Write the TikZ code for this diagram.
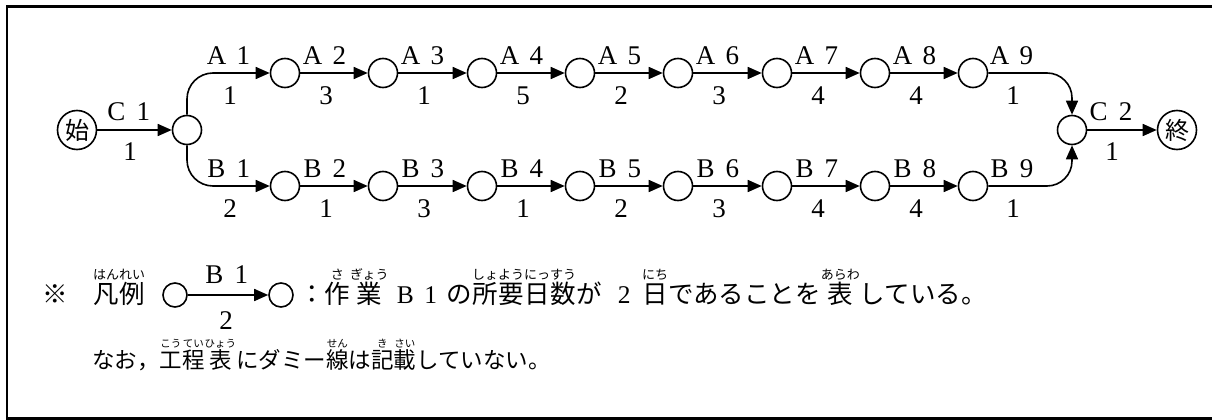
\documentclass[tikz,border=0pt]{standalone}
\usepackage{fontspec}
\setmainfont{Liberation Serif}
\newfontfamily\jp{Noto Sans CJK JP}
\usetikzlibrary{arrows.meta}
\def\rubysz{13}
\newcommand\rubyfont{\jp\fontsize{\rubysz}{\rubysz}\selectfont}
\newcommand\rb[2]{\leavevmode\setbox0\hbox{#1}\setbox2\hbox{\rubyfont #2}%
 \ifdim\wd2>\wd0 \dimen0=\wd2 \else \dimen0=\wd0 \fi
 \hbox to\dimen0{\hss\copy0\hss}\kern-\dimen0
 \hbox to\dimen0{\hss\raise 0.93em\box2\hss}}
\newcommand\fw[1]{\makebox[1em]{#1}}
\begin{document}
\begin{tikzpicture}[x=1pt,y=-1pt,
 ev/.style={circle,draw,line width=1.6pt,minimum size=29pt,inner sep=0pt},
 term/.style={circle,draw,line width=1.6pt,minimum size=39pt,inner sep=0pt,font=\jp\fontsize{24}{24}\selectfont},
 arr/.style={line width=1.6pt,-{Triangle[length=14pt,width=12pt]}},
 lab/.style={inner sep=0pt,anchor=base,font=\fontsize{27}{27}\selectfont},
 jtexta/.style={inner sep=0pt,font=\jp\fontsize{25.5}{25.5}\selectfont},
 jtextb/.style={inner sep=0pt,font=\jp\fontsize{22.5}{22.5}\selectfont},
]
\useasboundingbox (0,0) rectangle (1212,420);
\draw[line width=2.6pt] (1212,6.5) -- (7,6.5) -- (7,418.5) -- (1212,418.5);
% nodes
\node[term] (s) at (77,130) {始};
\node[ev] (f) at (187,130) {};
\foreach \i/\x in {1/285,2/383,3/482,4/580,5/678,6/777,7/875,8/973}{
  \node[ev] (a\i) at (\x,73) {};
  \node[ev] (b\i) at (\x,186) {};
}
\node[ev] (j) at (1072,130) {};
\node[term] (e) at (1177,130) {終};
% connectors
\draw[arr] (s) -- (f);
\draw[arr,rounded corners=26pt] (f.north) |- (a1.west);
\draw[arr,rounded corners=26pt] (f.south) |- (b1.west);
\foreach \p/\q in {1/2,2/3,3/4,4/5,5/6,6/7,7/8}{
  \draw[arr] (a\p) -- (a\q);
  \draw[arr] (b\p) -- (b\q);
}
\draw[arr,rounded corners=25pt] (a8.east) -| (j.north);
\draw[arr,rounded corners=25pt] (b8.east) -| (j.south);
\draw[arr] (j) -- (e);
% labels
\node[lab] (lc1) at (130,120) {\fw{C}\fw{1}};
\node[lab] (dc1) at (130,160) {1};
\node[lab] (lc2) at (1112,120) {\fw{C}\fw{2}};
\node[lab] (dc2) at (1112,160) {1};
\foreach \k/\x/\da/\db in {1/230/1/2,2/326/3/1,3/424/1/3,4/523/5/1,5/621/2/2,6/719/3/3,7/818/4/4,8/916/4/4,9/1013/1/1}{
  \node[lab] (la\k) at (\x,64) {\fw{A}\fw{\k}};
  \node[lab] (da\k) at (\x,104) {\da};
  \node[lab] (lb\k) at (\x,177) {\fw{B}\fw{\k}};
  \node[lab] (db\k) at (\x,217) {\db};
}
% legend
\node[jtexta,anchor=base] (kome) at (55,303) {※};
\node[jtexta,anchor=base west] (hanrei) at (93,303) {\rb{凡}{はん}\rb{例}{れい}};
\node[ev,minimum size=24pt] (l1) at (175,295) {};
\node[ev,minimum size=24pt] (l2) at (281,295) {};
\draw[arr] (l1) -- (l2);
\node[lab] (lb) at (228,283) {\fw{B}\fw{1}};
\node[lab] (ld) at (226,329) {2};
\node[jtexta,anchor=base west] (t1) at (299,303) {：\rb{作}{さ}\rb{業}{ぎょう}\hspace{4pt}{\rmfamily\fw{B}\fw{1}}\hspace{3pt}の\rb{所}{しょ}\rb{要}{よう}\rb{日}{にっ}\rb{数}{すう}が\hspace{10pt}{\rmfamily\fw{2}}\hspace{5pt}\rb{日}{にち}であることを\rb{表}{あらわ}している。};
\def\rubysz{10.5}
\node[jtextb,anchor=base west] (t2) at (92,368) {なお，\rb{工}{こう}\rb{程}{てい}\rb{表}{ひょう}にダミー\rb{線}{せん}は\rb{記}{き}\rb{載}{さい}していない。};
\end{tikzpicture}
\end{document}
